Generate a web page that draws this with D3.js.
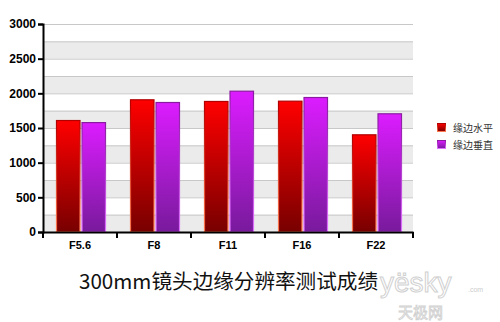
<!DOCTYPE html>
<html><head><meta charset="utf-8">
<script src="https://cdn.jsdelivr.net/npm/d3@7"></script>
<style>body{margin:0;background:#fff}svg{display:block}</style>
</head><body>
<svg id="c" width="500" height="322"></svg>
<script>
const categories = ["F5.6","F8","F11","F16","F22"];
const seriesNames = ["缘边水平","缘边垂直"];
const horizontal = [1615,1914,1890,1894,1409];
const vertical = [1585,1875,2038,1947,1712];
const yTicks = [0,500,1000,1500,2000,2500,3000];
const title = "300mm镜头边缘分辨率测试成绩";

const svg = d3.select("#c");
const L=43,R=413,T=24,B=232;
const x = d3.scaleBand().domain(categories).range([L,R]);
const xs = d3.scaleBand().domain([0,1]).range([13,63]).paddingInner(0.04);
const y = d3.scaleLinear().domain([0,3000]).range([B,T]);

const defs = svg.append("defs");
function grad(id, top, bot){
  const g = defs.append("linearGradient").attr("id",id).attr("x1",0).attr("y1",0).attr("x2",0).attr("y2",1);
  g.append("stop").attr("offset","0%").attr("stop-color",top);
  g.append("stop").attr("offset","100%").attr("stop-color",bot);
}
grad("gr","#ff0000","#780000");
grad("gp","#dc1cff","#781a9c");
grad("sr","#b00000","#ff7a50");
grad("sp","#8a1aa0","#e070ff");

// bands
const bandStep=250;
for(let v=0; v<3000; v+=bandStep*2){
  svg.append("rect").attr("x",L).attr("width",R-L)
    .attr("y",y(v+bandStep)).attr("height",y(v)-y(v+bandStep)).attr("fill","#ebebeb");
}
for(let v=250; v<=3000; v+=bandStep){
  svg.append("line").attr("x1",L).attr("x2",R).attr("y1",y(v)+0.5).attr("y2",y(v)+0.5)
    .attr("stroke","#c8c8c8").attr("stroke-width",1);
}

const data = [horizontal, vertical];
const fills=["url(#gr)","url(#gp)"], strokes=["url(#sr)","url(#sp)"];
data.forEach((arr,si)=>{
  svg.append("g").selectAll("rect").data(arr).join("rect")
    .attr("x",(d,i)=>x(categories[i])+xs(si)+0.5)
    .attr("width",xs.bandwidth()-1)
    .attr("y",d=>y(d)+0.5)
    .attr("height",d=>y(0)-y(d)-0.5)
    .attr("fill",fills[si]).attr("stroke",strokes[si]).attr("stroke-width",1.2);
});

// y axis
const ya = svg.append("g").attr("transform",`translate(${L},0)`)
  .call(d3.axisLeft(y).tickValues(yTicks).tickSize(5).tickFormat(d3.format("d")));
ya.select(".domain").attr("stroke","#000").attr("stroke-width",2);
ya.selectAll(".tick line").attr("stroke","#000").attr("stroke-width",2);
ya.selectAll("text").attr("font-family","Liberation Sans, Arial, sans-serif")
  .attr("font-size",12).attr("font-weight","bold").attr("fill","#000").attr("x",-7);

// x axis
const xa = svg.append("g").attr("transform",`translate(0,${B})`)
  .call(d3.axisBottom(x).tickSize(0).tickSizeOuter(0));
xa.select(".domain").attr("stroke","#000").attr("stroke-width",2);
xa.selectAll("text").attr("font-family","Liberation Sans, Arial, sans-serif")
  .attr("font-size",11).attr("font-weight","bold").attr("fill","#000").attr("dy","1.3em");
const edges = [L].concat(categories.map(c=>x(c)+x.bandwidth()));
svg.append("g").selectAll("line").data(edges).join("line")
  .attr("x1",d=>d).attr("x2",d=>d).attr("y1",B).attr("y2",B+6)
  .attr("stroke","#000").attr("stroke-width",2);

// legend
const lg = svg.append("g").attr("transform","translate(437,123)");
seriesNames.forEach((n,i)=>{
  lg.append("rect").attr("x",0.5).attr("y",i*17+0.5).attr("width",8).attr("height",8)
    .attr("fill",fills[i]).attr("stroke",strokes[i]);
  lg.append("text").attr("x",16).attr("y",i*17+8.5).text(n)
    .attr("font-family","Noto Sans CJK SC").attr("font-size",10).attr("fill","#333");
});

// title
svg.append("text").attr("x",228.5).attr("y",289).attr("text-anchor","middle")
  .attr("font-family","Noto Sans CJK SC").attr("font-weight",400)
  .attr("font-size",20.6).attr("fill","#111").text(title);

// watermark
svg.append("text").attr("x",380).attr("y",292).attr("font-family","Liberation Sans, Arial, sans-serif")
  .attr("font-size",28).attr("fill","none").attr("stroke","#d0d0d0").attr("stroke-width",1).text("yësky");
svg.append("text").attr("x",468).attr("y",292).attr("font-family","Liberation Sans, Arial, sans-serif")
  .attr("font-size",7).attr("fill","#ccc").text(".com");
svg.append("text").attr("x",398).attr("y",318).attr("font-family","Noto Sans CJK SC")
  .attr("font-size",15).attr("fill","none").attr("stroke","#d0d0d0").attr("stroke-width",0.8).text("天极网");
</script>
</body></html>
